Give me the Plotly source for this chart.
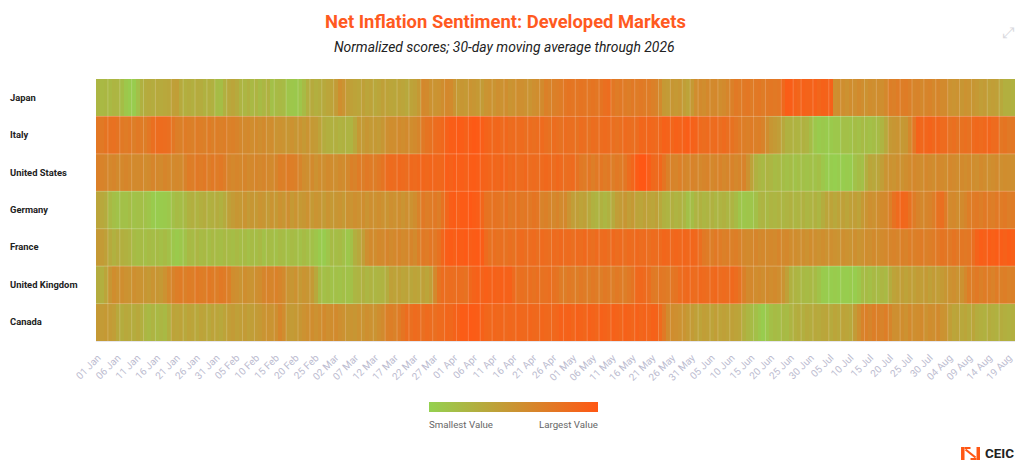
import pandas as pd
import plotly.graph_objects as go

W = 1024
H = 469
PLOT_L, PLOT_R, PLOT_T, PLOT_B = 96, 1015.5, 79, 341

countries = ["Japan", "Italy", "United States", "Germany", "France", "United Kingdom", "Canada"]
days = pd.date_range("2026-01-01", periods=232).strftime("%d %b").tolist()
tick_days = days[::5]

# 0 = smallest, 100 = largest, one value per day
japan = [
    22, 20, 21, 20, 23, 22, 16, 8, 5, 4, 14, 26, 30, 32, 30, 33, 32, 34, 35, 40,
    42, 32, 28, 30, 28, 31, 30, 26, 28, 26, 18, 16, 27, 34, 36, 32, 24, 22, 26, 20,
    24, 18, 22, 26, 14, 18, 20, 18, 10, 8, 7, 10, 18, 28, 32, 28, 30, 33, 36, 38,
    44, 55, 50, 42, 40, 38, 36, 40, 36, 38, 34, 36, 40, 38, 36, 35, 38, 36, 34, 38,
    40, 46, 60, 58, 52, 50, 52, 56, 60, 58, 50, 45, 48, 46, 50, 48, 46, 44, 50, 52,
    50, 54, 52, 55, 50, 52, 55, 54, 52, 50, 54, 56, 58, 66, 64, 66, 68, 70, 74, 76,
    75, 74, 76, 75, 74, 76, 74, 76, 80, 82, 74, 70, 72, 70, 68, 72, 70, 72, 70, 70,
    66, 64, 58, 46, 44, 48, 46, 48, 42, 38, 46, 56, 58, 56, 60, 58, 60, 56, 58, 62,
    66, 72, 70, 72, 74, 70, 72, 74, 70, 72, 74, 72, 74, 85, 95, 94, 90, 88, 92, 90,
    90, 92, 88, 92, 90, 92, 54, 56, 55, 52, 56, 54, 58, 55, 52, 56, 54, 56, 55, 60,
    68, 66, 70, 68, 70, 66, 62, 64, 60, 62, 64, 60, 62, 58, 58, 52, 50, 52, 48, 52,
    50, 48, 46, 42, 44, 40, 42, 40, 34, 28, 28, 26,
]
italy = [
    74, 72, 76, 78, 79, 76, 72, 70, 72, 68, 72, 70, 68, 74, 80, 82, 83, 82, 80, 74,
    68, 66, 70, 68, 66, 70, 68, 66, 70, 66, 68, 66, 68, 65, 66, 64, 60, 58, 60, 56,
    58, 55, 58, 54, 56, 50, 52, 50, 48, 52, 48, 50, 46, 50, 46, 44, 38, 30, 28, 26,
    28, 25, 26, 24, 24, 34, 46, 44, 48, 45, 46, 44, 48, 54, 56, 55, 58, 56, 58, 56,
    58, 62, 72, 76, 78, 82, 84, 86, 92, 95, 94, 97, 95, 92, 96, 98, 97, 94, 90, 88,
    86, 88, 84, 86, 82, 84, 82, 84, 80, 82, 80, 82, 84, 80, 78, 82, 80, 78, 82, 80,
    80, 78, 82, 80, 78, 82, 80, 82, 84, 82, 80, 78, 80, 84, 82, 80, 82, 88, 86, 88,
    86, 84, 86, 92, 90, 88, 92, 90, 92, 94, 92, 90, 84, 82, 84, 82, 84, 80, 84, 80,
    78, 74, 70, 68, 66, 70, 66, 68, 64, 56, 48, 45, 42, 34, 26, 26, 25, 24, 26, 24,
    16, 8, 5, 7, 5, 6, 8, 8, 14, 14, 12, 16, 14, 18, 16, 14, 16, 18, 24, 34,
    46, 48, 50, 46, 48, 60, 74, 90, 86, 88, 90, 86, 88, 84, 84, 78, 80, 76, 78, 80,
    78, 84, 86, 84, 86, 88, 84, 84, 74, 76, 72, 74,
]
united_states = [
    66, 64, 62, 60, 62, 58, 60, 62, 60, 58, 58, 60, 56, 58, 62, 60, 58, 62, 60, 58,
    60, 58, 64, 70, 68, 72, 70, 72, 68, 72, 70, 72, 68, 62, 60, 62, 60, 62, 58, 60,
    62, 60, 62, 60, 58, 62, 68, 66, 70, 68, 66, 62, 56, 54, 58, 52, 56, 54, 58, 56,
    54, 58, 56, 60, 66, 64, 70, 68, 72, 70, 68, 72, 76, 82, 84, 82, 85, 84, 82, 85,
    84, 86, 88, 86, 88, 87, 86, 88, 94, 92, 95, 93, 94, 92, 95, 96, 94, 92, 90, 88,
    88, 86, 90, 88, 84, 86, 82, 84, 86, 82, 84, 82, 84, 86, 84, 82, 86, 84, 80, 82,
    84, 78, 72, 70, 74, 68, 72, 74, 70, 72, 68, 72, 70, 74, 82, 88, 96, 100, 100, 94,
    86, 84, 86, 76, 66, 64, 62, 66, 62, 60, 64, 62, 60, 62, 64, 60, 62, 64, 60, 62,
    64, 60, 62, 64, 52, 38, 26, 22, 20, 24, 22, 18, 20, 16, 14, 16, 12, 15, 14, 12,
    14, 12, 15, 8, 4, 3, 2, 4, 3, 5, 4, 12, 16, 14, 28, 36, 34, 36, 42, 50,
    52, 50, 54, 52, 55, 58, 60, 58, 56, 60, 58, 56, 60, 58, 56, 60, 58, 56, 58, 56,
    58, 56, 54, 58, 56, 54, 56, 58, 54, 56, 55, 54,
]
germany = [
    36, 34, 30, 20, 15, 12, 14, 13, 16, 12, 14, 15, 12, 10, 5, 4, 5, 6, 8, 14,
    18, 16, 20, 26, 28, 25, 28, 30, 26, 28, 30, 26, 32, 40, 44, 48, 46, 50, 44, 48,
    46, 50, 48, 44, 50, 46, 52, 48, 54, 46, 50, 46, 48, 52, 46, 50, 48, 44, 50, 46,
    48, 50, 46, 52, 50, 54, 52, 55, 50, 54, 52, 55, 52, 50, 54, 52, 55, 50, 54, 52,
    56, 64, 72, 68, 70, 72, 68, 78, 88, 94, 96, 93, 97, 96, 98, 96, 94, 88, 78, 76,
    78, 76, 74, 78, 72, 74, 76, 72, 74, 72, 76, 74, 64, 66, 62, 60, 64, 58, 60, 50,
    42, 42, 38, 40, 34, 26, 24, 26, 22, 26, 32, 42, 44, 48, 42, 46, 38, 36, 40, 38,
    36, 40, 34, 26, 24, 28, 24, 26, 22, 14, 16, 24, 26, 22, 24, 26, 22, 24, 26, 22,
    24, 18, 10, 8, 10, 9, 14, 22, 24, 20, 24, 22, 25, 22, 24, 26, 22, 24, 26, 22,
    24, 26, 22, 30, 36, 38, 34, 38, 40, 36, 40, 42, 38, 46, 50, 54, 52, 56, 58, 60,
    66, 78, 84, 88, 86, 78, 70, 64, 60, 62, 64, 68, 78, 80, 70, 58, 60, 56, 58, 62,
    68, 70, 72, 68, 72, 70, 68, 72, 70, 72, 68, 70,
]
france = [
    46, 44, 40, 32, 26, 30, 28, 26, 24, 18, 16, 18, 15, 18, 16, 18, 15, 18, 14, 8,
    6, 8, 12, 20, 18, 22, 18, 20, 16, 20, 18, 16, 20, 18, 16, 20, 16, 18, 14, 18,
    16, 20, 14, 18, 16, 14, 18, 16, 14, 18, 16, 14, 18, 15, 14, 10, 5, 4, 10, 18,
    16, 18, 14, 8, 14, 28, 34, 42, 54, 58, 56, 60, 58, 62, 58, 60, 62, 58, 60, 62,
    58, 66, 72, 70, 74, 72, 78, 88, 94, 96, 93, 97, 95, 97, 94, 96, 97, 95, 84, 78,
    80, 78, 80, 78, 80, 78, 82, 84, 80, 82, 84, 80, 84, 82, 80, 84, 82, 85, 82, 84,
    80, 84, 82, 85, 82, 80, 84, 82, 84, 80, 85, 82, 84, 80, 84, 82, 85, 82, 84, 80,
    84, 82, 84, 88, 86, 85, 88, 86, 88, 86, 88, 86, 80, 72, 70, 68, 72, 70, 66, 68,
    66, 68, 64, 60, 58, 60, 62, 58, 60, 58, 60, 58, 62, 58, 60, 56, 56, 54, 55, 52,
    56, 54, 52, 55, 52, 54, 52, 50, 54, 52, 50, 54, 50, 52, 56, 54, 58, 56, 58, 60,
    62, 64, 62, 66, 64, 68, 66, 68, 70, 66, 68, 70, 72, 76, 74, 72, 76, 72, 74, 72,
    74, 80, 90, 94, 92, 95, 93, 95, 94, 92, 95, 93,
]
united_kingdom = [
    30, 28, 36, 48, 56, 52, 55, 52, 50, 54, 52, 50, 48, 46, 50, 48, 46, 52, 60, 64,
    68, 70, 66, 70, 68, 72, 70, 68, 72, 70, 68, 72, 70, 66, 56, 54, 50, 55, 52, 50,
    54, 56, 62, 64, 62, 65, 62, 58, 50, 48, 52, 46, 50, 48, 45, 34, 18, 14, 16, 12,
    14, 12, 15, 12, 14, 22, 24, 26, 22, 25, 22, 24, 25, 30, 40, 38, 40, 36, 38, 35,
    38, 36, 40, 36, 42, 60, 76, 82, 80, 82, 80, 82, 80, 78, 86, 90, 92, 90, 93, 91,
    92, 90, 93, 91, 92, 84, 78, 80, 78, 80, 78, 80, 78, 79, 80, 78, 76, 70, 68, 72,
    70, 68, 72, 70, 68, 72, 70, 68, 72, 70, 68, 72, 70, 68, 72, 76, 85, 86, 84, 80,
    72, 70, 74, 72, 70, 74, 76, 82, 84, 85, 84, 82, 85, 84, 82, 84, 86, 82, 84, 82,
    85, 82, 76, 66, 58, 60, 56, 58, 55, 58, 56, 58, 55, 50, 40, 26, 24, 22, 20, 18,
    20, 18, 12, 5, 4, 3, 5, 3, 4, 3, 5, 3, 8, 16, 18, 15, 20, 18, 22, 20,
    30, 38, 40, 42, 38, 42, 40, 44, 42, 45, 40, 44, 42, 45, 48, 52, 54, 50, 52, 60,
    68, 68, 72, 66, 70, 68, 65, 70, 66, 68, 65, 66,
]
canada = [
    46, 44, 46, 44, 42, 34, 30, 34, 32, 30, 34, 28, 22, 20, 24, 20, 22, 20, 28, 38,
    36, 38, 34, 38, 36, 34, 38, 36, 34, 38, 36, 34, 38, 42, 44, 40, 42, 44, 40, 42,
    44, 46, 50, 52, 50, 54, 62, 56, 46, 44, 46, 48, 52, 54, 56, 52, 55, 58, 54, 56,
    58, 54, 52, 48, 50, 48, 52, 50, 54, 52, 50, 55, 58, 66, 68, 65, 70, 76, 82, 80,
    84, 82, 80, 84, 82, 80, 84, 84, 88, 86, 90, 92, 96, 95, 97, 96, 95, 92, 88, 86,
    88, 86, 88, 85, 87, 85, 88, 86, 85, 88, 86, 85, 88, 86, 85, 86, 88, 92, 90, 92,
    88, 92, 90, 88, 92, 90, 88, 92, 90, 88, 92, 90, 88, 92, 90, 88, 92, 88, 90, 88,
    92, 90, 84, 72, 58, 56, 54, 52, 50, 46, 44, 40, 38, 42, 40, 38, 42, 38, 40, 38,
    40, 38, 36, 28, 22, 18, 14, 8, 4, 8, 15, 18, 16, 20, 18, 24, 28, 30, 28, 32,
    30, 34, 32, 35, 36, 32, 36, 34, 38, 36, 34, 44, 54, 64, 66, 62, 68, 66, 64, 68,
    62, 54, 54, 56, 52, 58, 54, 56, 58, 52, 56, 54, 58, 52, 50, 42, 36, 38, 34, 36,
    32, 36, 30, 28, 26, 30, 28, 26, 30, 28, 26, 28,
]

# faint light seams seen between some columns
seams = [3, 6, 9, 12, 15, 19, 22, 25, 28, 30, 33, 37, 40, 43, 45, 48, 51, 54, 57, 60, 63,
         67, 70, 73, 76, 79, 82, 85, 88, 91, 94, 97, 100, 103, 106, 109, 112, 115, 118,
         121, 124, 127, 130, 133, 136, 139, 142, 145, 148, 150, 152, 155, 157, 160, 163,
         166, 169, 173, 176, 178, 181, 185, 188, 191, 194, 197, 200, 203, 206, 209, 212,
         215, 218, 221, 225, 228]

z = [japan, italy, united_states, germany, france, united_kingdom, canada]


def px_x(x):
    return (x - PLOT_L) / (PLOT_R - PLOT_L)


def px_y(y):
    return (PLOT_B - y) / (PLOT_B - PLOT_T)


fig = go.Figure(go.Heatmap(
    z=z,
    x=days,
    y=countries,
    zmin=0,
    zmax=100,
    colorscale=[[0, "#94d150"], [1, "#ff5714"]],
    colorbar=dict(
        orientation="h",
        xref="container",
        yref="container",
        x=572 / W,
        y=1 - 407 / H,
        xanchor="center",
        yanchor="middle",
        len=169,
        lenmode="pixels",
        thickness=10,
        thicknessmode="pixels",
        outlinewidth=0,
        xpad=0,
        ypad=0,
        ticks="",
        showticklabels=False,
    ),
    hovertemplate="%{y}<br>%{x}: %{z}<extra></extra>",
))

for s in seams:
    fig.add_shape(type="line", xref="x", yref="paper", x0=s - 0.5, x1=s - 0.5, y0=0, y1=1,
                  line=dict(color="rgba(255,255,255,0.25)", width=0.8))
for r in range(1, len(countries)):
    fig.add_shape(type="line", xref="paper", yref="y", x0=0, x1=1, y0=r - 0.5, y1=r - 0.5,
                  line=dict(color="rgba(255,255,255,0.25)", width=1))

# logo
for x0, x1, y0, y1 in [(961.5, 965, 447, 460), (977, 980.5, 447, 460),
                       (965, 971, 447, 449), (971, 977, 458, 460)]:
    fig.add_shape(type="rect", xref="paper", yref="paper", x0=px_x(x0), x1=px_x(x1),
                  y0=px_y(y1), y1=px_y(y0), fillcolor="#ff5714", line_width=0)
fig.add_shape(type="line", xref="paper", yref="paper", x0=px_x(966), x1=px_x(976),
              y0=px_y(449.5), y1=px_y(457.5), line=dict(color="#ff5714", width=2.2))

annotations = [
    dict(text="<i>Normalized scores; 30-day moving average through 2026</i>", x=px_x(505), y=px_y(47),
         font=dict(family="Roboto", size=13.9, color="#222222"), xanchor="center"),
    dict(text="Smallest Value", x=px_x(427), y=px_y(424), xanchor="left",
         font=dict(family="Roboto", size=9.7, color="#666666")),
    dict(text="Largest Value", x=px_x(600), y=px_y(424), xanchor="right",
         font=dict(family="Roboto", size=9.7, color="#666666")),
    dict(text="<b>CEIC</b>", x=px_x(1017), y=px_y(453.5), xanchor="right",
         font=dict(family="Roboto", size=13.4, color="#222222")),
    dict(text="⤢", x=px_x(1009), y=px_y(33), xanchor="center",
         font=dict(family="DejaVu Sans", size=15, color="#d9d9de")),
]
for name, row in zip(countries, range(len(countries))):
    annotations.append(dict(text="<b>" + name + "</b>", x=px_x(8),
                            y=px_y(PLOT_T + (row + 0.5) * (PLOT_B - PLOT_T) / 7 - 0.5), xanchor="left",
                            font=dict(family="Roboto", size=9.4, color="#222222")))
for a in annotations:
    a.update(xref="paper", yref="paper", yanchor="middle", showarrow=False)

fig.update_layout(
    title=dict(
        text="<b>Net Inflation Sentiment: Developed Markets</b>",
        x=505.5 / W,
        xanchor="center",
        y=1 - 22 / H,
        yanchor="middle",
        font=dict(family="Roboto", size=18.4, color="#ff5a1f"),
    ),
    annotations=annotations,
    width=W,
    height=H,
    margin=dict(l=PLOT_L, r=W - PLOT_R, t=PLOT_T, b=H - PLOT_B, pad=0, autoexpand=False),
    paper_bgcolor="white",
    plot_bgcolor="white",
    font=dict(family="Roboto"),
)
fig.update_xaxes(
    type="category",
    tickmode="array",
    tickvals=tick_days,
    ticktext=tick_days,
    tickangle=-45,
    ticklabelstandoff=6,
    tickfont=dict(family="Roboto", size=10, color="#bcbcd0"),
    ticks="",
    showline=True,
    linecolor="#e6e6ee",
    showgrid=False,
    zeroline=False,
)
fig.update_yaxes(autorange="reversed", showticklabels=False, ticks="", showgrid=False, zeroline=False)

fig.write_html("out.html", config={"displayModeBar": False}, post_script="document.body.style.margin='0';")
